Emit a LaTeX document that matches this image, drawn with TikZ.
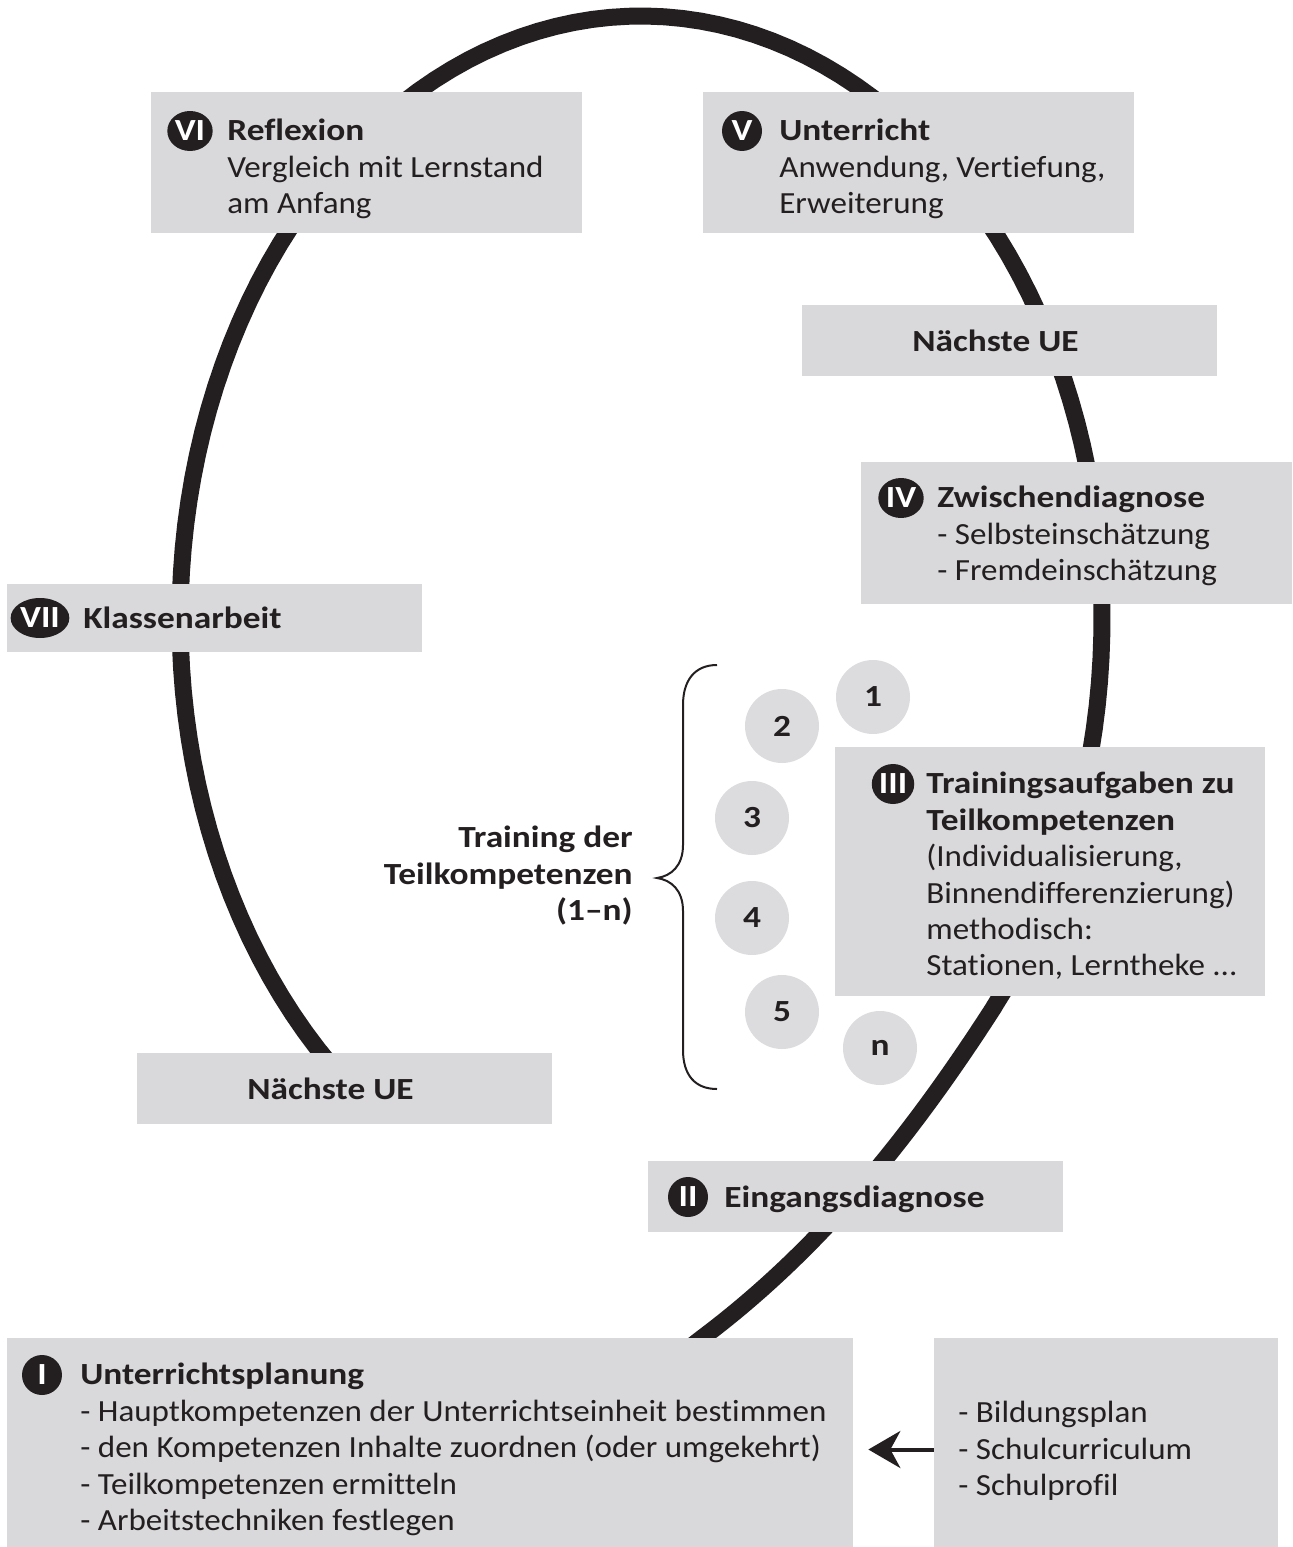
\documentclass[tikz,border=0pt]{standalone}
\usepackage{fontspec}
\setmainfont{Carlito}[FakeStretch=1.075, BoldFeatures={FakeStretch=1.15}, Ligatures=NoCommon]
\usetikzlibrary{arrows.meta,shapes.geometric,fit}
\definecolor{boxgray}{HTML}{D9D9DB}
\definecolor{dotgray}{HTML}{DCDCDE}
\definecolor{inkblack}{HTML}{231F20}
\tikzset{
  box/.style={fill=boxgray, inner sep=0pt},
  txt/.style={font=\fontsize{17.5}{20.7}\selectfont, text=inkblack, align=left, inner sep=0pt, anchor=north west},
  badge/.style={ellipse, fill=inkblack, text=white, inner sep=0.5pt, minimum width=0.8cm, minimum height=0.8cm,
    font=\fontsize{17.5}{20}\selectfont\bfseries},
  numdot/.style={circle, fill=dotgray, text=inkblack, minimum size=1.48cm, inner sep=0pt,
    font=\fontsize{17.5}{20}\selectfont\bfseries},
  ring/.style={line width=0.34cm, inkblack},
  arr/.style={-{Stealth[length=0.64cm,width=0.74cm,inset=0.2cm]}, line width=0.08cm, inkblack}
}
\begin{document}
\begin{tikzpicture}[x=0.02cm,y=-0.02cm]
  \useasboundingbox (0,0) rectangle (1292,1547);

  %% the cycle
  \draw[ring] (620,1402) -- (702,1338) .. controls (822,1248) and (913,1133) .. (994,1007)
    -- plot[domain=-40:230, samples=120, variable=\t] ({641+461*cos(\t)},{619-603*sin(\t)});

  %% boxes
  \node[box, fit={(151,92) (582,233)}] (vi) {};
  \node[box, fit={(703,92) (1134,233)}] (v) {};
  \node[box, fit={(802,305) (1217,376)}] (nextr) {};
  \node[box, fit={(861,462) (1292,604)}] (iv) {};
  \node[box, fit={(7,584) (422,652)}] (vii) {};
  \node[box, fit={(835,747) (1265,996)}] (iii) {};
  \node[box, fit={(137,1053) (552,1124)}] (nextl) {};
  \node[box, fit={(648,1161) (1063,1232)}] (ii) {};
  \node[box, fit={(7,1338) (853,1547)}] (plan) {};
  \node[box, fit={(934,1338) (1278,1547)}] (src) {};

  %% badges
  \node[badge] (vib) at (190,131) {VI};
  \node[badge] (vb) at (742,131) {V};
  \node[badge] (ivb) at (901,498) {IV};
  \node[badge] (viib) at (40,618) {VII};
  \node[badge] (iiib) at (893,784) {III};
  \node[badge] (iib) at (688,1197) {II};
  \node[badge] (ib) at (42,1375) {I};

  %% texts
  \node[txt] (vitxt) at (227,119) {\textbf{Reflexion}\\Vergleich mit Lernstand\\am Anfang};
  \node[txt] (vtxt) at (779,119) {\textbf{Unterricht}\\Anwendung, Vertiefung,\\Erweiterung};
  \node[txt, anchor=center, xshift=-0.28cm] (nextrtxt) at (nextr) {\textbf{Nächste UE}};
  \node[txt] (ivtxt) at (937,486) {\textbf{Zwischendiagnose}\\- Selbsteinschätzung\\- Fremdeinschätzung};
  \node[txt, anchor=base west] (viitxt) at (83,628) {\textbf{Klassenarbeit}};
  \node[txt] (iiitxt) at (926,772) {\textbf{Trainingsaufgaben zu}\\\textbf{Teilkompetenzen}\\(Individualisierung,\\Binnendifferenzierung)\\methodisch:\\Stationen, Lerntheke ...};
  \node[txt, anchor=center, xshift=-0.28cm] (nextltxt) at (nextl) {\textbf{Nächste UE}};
  \node[txt, anchor=base west] (iitxt) at (724,1207) {\textbf{Eingangsdiagnose}};
  \node[txt] (plantxt) at (80,1363) {\textbf{Unterrichtsplanung}\\- Hauptkompetenzen der Unterrichtseinheit bestimmen\\- den Kompetenzen Inhalte zuordnen (oder umgekehrt)\\- Teilkompetenzen ermitteln\\- Arbeitstechniken festlegen};
  \node[txt] (srctxt) at (958,1401) {- Bildungsplan\\- Schulcurriculum\\- Schulprofil};

  %% training steps
  \node[numdot] (t1) at (873,697) {1};
  \node[numdot] (t2) at (782,726) {2};
  \node[numdot] (t3) at (752,818) {3};
  \node[numdot] (t4) at (752,918) {4};
  \node[numdot] (t5) at (782,1012) {5};
  \node[numdot] (tn) at (880,1048) {n};
  \draw[inkblack, line width=0.04cm] (717,665) .. controls (695,665) and (683,680) .. (683,705)
    -- (683,845) .. controls (683,866) and (671,876) .. (657,878)
    .. controls (671,880) and (683,890) .. (683,911) -- (683,1050)
    .. controls (683,1075) and (695,1089) .. (717,1089);
  \node[txt, anchor=north east, align=right] (train) at (633,826) {\textbf{Training der}\\\textbf{Teilkompetenzen}\\\textbf{(1--n)}\hspace{4pt}};

  %% input arrow
  \draw[arr, shorten >=0.3cm] ([yshift=-0.14cm]src.west) -- ([yshift=-0.14cm]plan.east);
\end{tikzpicture}
\end{document}
